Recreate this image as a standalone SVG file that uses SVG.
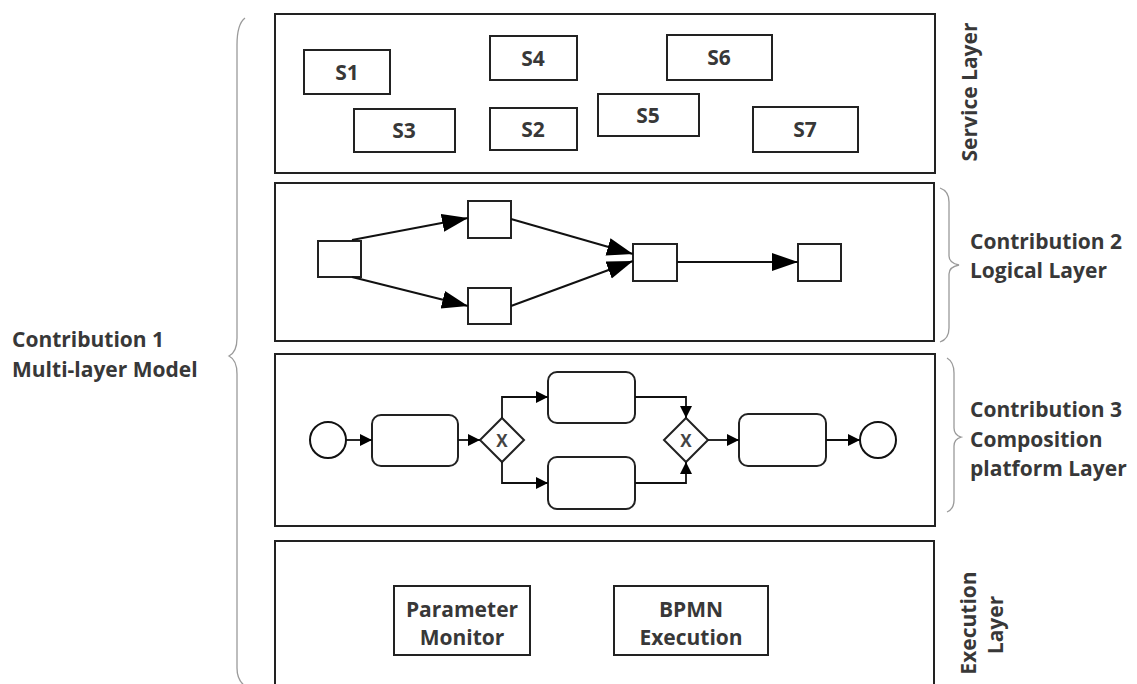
<svg xmlns="http://www.w3.org/2000/svg" width="1137" height="684" viewBox="0 0 1137 684">
<style>
.layer{fill:#fff;stroke:#222;stroke-width:2}
.box{fill:#fff;stroke:#222;stroke-width:2}
.lbl{font-family:"Open Sans","Liberation Sans",sans-serif;font-weight:bold;font-size:21px;fill:#383838}
.mid{text-anchor:middle}
.brace{fill:none;stroke:#9a9a9a;stroke-width:1.3}
.edge{fill:none;stroke:#111;stroke-width:2}
.flow{fill:none;stroke:#111;stroke-width:1.8}
.gx{font-family:"Open Sans","Liberation Sans",sans-serif;font-weight:bold;font-size:17px;fill:#444;text-anchor:middle}
</style>
<defs>
<marker id="big" markerUnits="userSpaceOnUse" markerWidth="28" markerHeight="20" refX="26" refY="9" orient="auto"><path d="M0,0 L26,9 L0,18 z" fill="#000"/></marker>
<marker id="sm" markerUnits="userSpaceOnUse" markerWidth="14" markerHeight="14" refX="12" refY="6" orient="auto"><path d="M0,0 L12,6 L0,12 z" fill="#000"/></marker>
</defs>
<rect width="1137" height="684" fill="#fff"/>

<g id="multi-layer-label">
<path class="brace" d="M245,18 Q237,24 237,45 L237,338 Q237,352 229,356 Q237,360 237,374 L237,668 Q237,680 245,686"/>
<text class="lbl" x="12" y="347">Contribution 1</text>
<text class="lbl" x="12" y="377">Multi-layer Model</text>
</g>

<g id="service-layer">
<rect class="layer" x="275" y="14" width="660" height="159"/>
<text class="lbl mid" transform="translate(977,92) rotate(-90)">Service Layer</text>
</g>
<g id="S1"><rect class="box" x="304" y="50" width="86" height="44"/><text class="lbl mid" x="347" y="80">S1</text></g>
<g id="S4"><rect class="box" x="490" y="36" width="87" height="44"/><text class="lbl mid" x="533" y="66">S4</text></g>
<g id="S6"><rect class="box" x="667" y="35" width="105" height="45"/><text class="lbl mid" x="719" y="65">S6</text></g>
<g id="S3"><rect class="box" x="354" y="109" width="101" height="43"/><text class="lbl mid" x="404" y="138">S3</text></g>
<g id="S2"><rect class="box" x="490" y="108" width="87" height="42"/><text class="lbl mid" x="533" y="137">S2</text></g>
<g id="S5"><rect class="box" x="598" y="94" width="101" height="42"/><text class="lbl mid" x="648" y="123">S5</text></g>
<g id="S7"><rect class="box" x="753" y="107" width="105" height="45"/><text class="lbl mid" x="805" y="137">S7</text></g>

<g id="logical-layer">
<rect class="layer" x="275" y="183" width="659" height="158"/>
<path class="brace" d="M940,188 Q949,191 949,202 L949,256 Q949,263 959,265 Q949,267 949,274 L949,328 Q949,339 940,342"/>
<text class="lbl" x="970" y="249">Contribution 2</text>
<text class="lbl" x="970" y="278">Logical Layer</text>
</g>
<g id="L1"><rect class="box" x="318" y="241" width="43" height="36"/></g>
<g id="L2"><rect class="box" x="468" y="201" width="43" height="37"/></g>
<g id="L3"><rect class="box" x="468" y="288" width="43" height="36"/></g>
<g id="L4"><rect class="box" x="633" y="244" width="44" height="37"/></g>
<g id="L5"><rect class="box" x="798" y="244" width="43" height="37"/></g>

<g id="composition-layer">
<rect class="layer" x="275" y="354" width="660" height="172"/>
<path class="brace" d="M947,358 Q954,362 954,373 L954,428 Q954,435 961,437 Q954,439 954,446 L954,500 Q954,509 947,512"/>
<text class="lbl" x="970" y="417">Contribution 3</text>
<text class="lbl" x="970" y="447">Composition</text>
<text class="lbl" x="970" y="476">platform Layer</text>
</g>
<g id="start"><circle cx="328" cy="440" r="18" fill="#fff" stroke="#111" stroke-width="2"/></g>
<g id="task1"><rect class="box" x="372" y="415" width="86" height="51" rx="9"/></g>
<g id="gw1"><path class="box" d="M502,418 L524,440 L502,462 L480,440 z"/><text class="gx" x="502" y="447">X</text></g>
<g id="task2"><rect class="box" x="548" y="372" width="87" height="51" rx="9"/></g>
<g id="task3"><rect class="box" x="548" y="457" width="87" height="52" rx="9"/></g>
<g id="gw2"><path class="box" d="M686,418 L708,440 L686,462 L664,440 z"/><text class="gx" x="686" y="447">X</text></g>
<g id="task4"><rect class="box" x="739" y="414" width="87" height="52" rx="9"/></g>
<g id="end"><circle cx="878" cy="440" r="18" fill="#fff" stroke="#111" stroke-width="2"/></g>

<g id="execution-layer">
<rect class="layer" x="275" y="541" width="659" height="160"/>
<text class="lbl mid" transform="translate(976,623) rotate(-90)">Execution</text>
<text class="lbl mid" transform="translate(1003,625) rotate(-90)">Layer</text>
</g>
<g id="param-monitor"><rect class="box" x="394" y="586" width="136" height="69"/>
<text class="lbl mid" x="462" y="617">Parameter</text><text class="lbl mid" x="462" y="645">Monitor</text></g>
<g id="bpmn-exec"><rect class="box" x="614" y="586" width="154" height="69"/>
<text class="lbl mid" x="691" y="617">BPMN</text><text class="lbl mid" x="691" y="645">Execution</text></g>

<g id="connectors">
<path class="edge" d="M352,240 L468,218" marker-end="url(#big)"/>
<path class="edge" d="M352,277 L468,306" marker-end="url(#big)"/>
<path class="edge" d="M511,219 L633,254" marker-end="url(#big)"/>
<path class="edge" d="M511,306 L633,261" marker-end="url(#big)"/>
<path class="edge" d="M677,262 L798,262" marker-end="url(#big)"/>
<path class="flow" d="M346,440 L372,440" marker-end="url(#sm)"/>
<path class="flow" d="M458,440 L480,440" marker-end="url(#sm)"/>
<path class="flow" d="M502,418 V397 H548" marker-end="url(#sm)"/>
<path class="flow" d="M502,462 V483 H548" marker-end="url(#sm)"/>
<path class="flow" d="M635,397 H686 V418" marker-end="url(#sm)"/>
<path class="flow" d="M635,483 H686 V462" marker-end="url(#sm)"/>
<path class="flow" d="M708,440 L739,440" marker-end="url(#sm)"/>
<path class="flow" d="M826,440 L860,440" marker-end="url(#sm)"/>
</g>
</svg>
